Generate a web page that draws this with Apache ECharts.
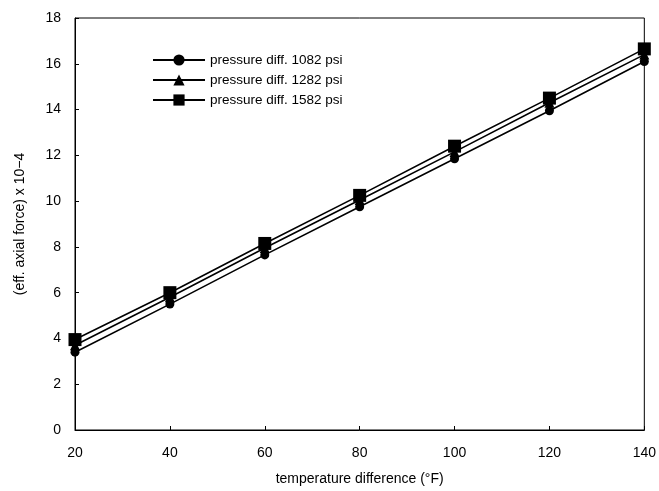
<!DOCTYPE html>
<html><head><meta charset="utf-8">
<script src="https://cdn.jsdelivr.net/npm/echarts@6/dist/echarts.min.js"></script>
<style>html,body{margin:0;padding:0;background:#fff}#c{width:659px;height:491px}</style>
</head><body><div id="c"></div>
<script>
const temps = [20, 40, 60, 80, 100, 120, 140];
const p1082 = [3.4, 5.5, 7.65, 9.75, 11.85, 13.95, 16.1];
const p1282 = [3.7, 5.8, 7.95, 10.05, 12.15, 14.3, 16.4];
const p1582 = [3.95, 6.0, 8.15, 10.25, 12.4, 14.5, 16.65];
const names = ['pressure diff. 1082 psi', 'pressure diff. 1282 psi', 'pressure diff. 1582 psi'];
const symbols = ['circle', 'triangle', 'rect'];
const sizes = [9, 10, 13];
const all = [p1082, p1282, p1582];
const font = 'Arial, "Liberation Sans", sans-serif';
const chart = echarts.init(document.getElementById('c'));
chart.setOption({
  animation: false,
  backgroundColor: '#fff',
  grid: {left: 75, right: 12, top: 18, bottom: 58, show: true, borderColor: '#000', borderWidth: 1},
  legend: {
    orient: 'vertical', left: 147, top: 48, itemWidth: 52, itemHeight: 14, itemGap: 6,
    textStyle: {fontFamily: font, fontSize: 13.5, color: '#000'},
    data: names
  },
  xAxis: {
    type: 'value', min: 20, max: 140, interval: 20,
    name: 'temperature difference (°F)', nameLocation: 'middle', nameGap: 42,
    nameTextStyle: {fontFamily: font, fontSize: 14, color: '#000'},
    axisLine: {lineStyle: {color: '#000'}},
    axisTick: {inside: true, length: 4, lineStyle: {color: '#000'}},
    axisLabel: {fontFamily: font, fontSize: 14, color: '#000', margin: 16},
    splitLine: {show: false}
  },
  yAxis: {
    type: 'value', min: 0, max: 18, interval: 2,
    name: '(eff. axial force) x 10−4', nameLocation: 'middle', nameGap: 48,
    nameTextStyle: {fontFamily: font, fontSize: 14, color: '#000'},
    axisLine: {lineStyle: {color: '#000'}},
    axisTick: {inside: true, length: 4, lineStyle: {color: '#000'}},
    axisLabel: {fontFamily: font, fontSize: 14, color: '#000', margin: 14},
    splitLine: {show: false}
  },
  series: all.map((d, i) => ({
    name: names[i], type: 'line', data: temps.map((t, j) => [t, d[j]]),
    symbol: symbols[i], symbolSize: sizes[i],
    lineStyle: {color: '#000', width: 1.6},
    itemStyle: {color: '#000'}
  }))
});
</script></body></html>
